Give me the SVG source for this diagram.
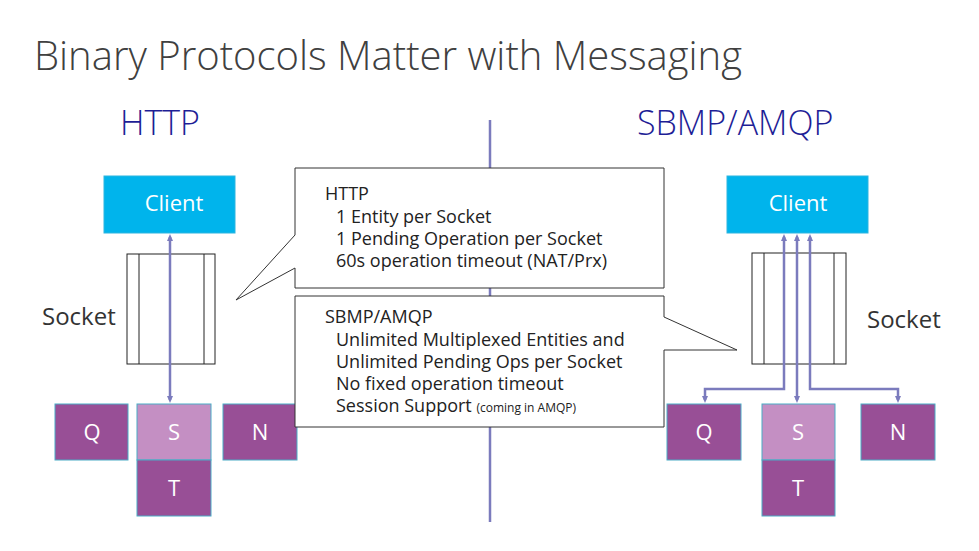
<svg xmlns="http://www.w3.org/2000/svg" width="979" height="551" viewBox="0 0 979 551">
<defs>
<marker id="ah" markerWidth="8" markerHeight="8" refX="4" refY="4" orient="auto-start-reverse" markerUnits="userSpaceOnUse"><path d="M0,1 L7,4 L0,7 z" fill="#7b7bbd"/></marker>
<style>
text{font-family:"Segoe UI","Open Sans","Liberation Sans",sans-serif}
.title{font-size:40px;fill:#404040;font-weight:300}
.hd{font-size:34px;fill:#1e1e96;font-weight:300}
.sock{font-size:24px;fill:#333}
.cl{fill:#00b4ec;stroke:#2cb5e0}
.cl-t{font-size:22px;fill:#fff;text-anchor:middle}
.p{fill:#984f96;stroke:#4bacc6}
.pl{fill:#c48fc3;stroke:#4bacc6}
.lt{font-size:22px;fill:#fff;text-anchor:middle}
.sk{fill:#fff;stroke:#222;stroke-width:1}
.cb{fill:#fff;stroke:#333;stroke-width:1}
.ct{font-size:18px;fill:#222}
.ln{stroke:#7b7bbd;stroke-width:2.5;fill:none}
</style>
</defs>
<rect width="979" height="551" fill="#fff"/>
<text class="title" x="34" y="70">Binary Protocols Matter with Messaging</text>
<text class="hd" x="120" y="135">HTTP</text>
<text class="hd" x="637" y="135">SBMP/AMQP</text>
<text class="sock" x="42" y="325">Socket</text>
<text class="sock" x="867" y="328">Socket</text>
<line class="ln" x1="490" y1="120" x2="490" y2="522"/>
<g id="sockL"><rect class="sk" x="127" y="254" width="88" height="110"/><line class="sk" x1="139" y1="254" x2="139" y2="364"/><line class="sk" x1="204" y1="254" x2="204" y2="364"/></g>
<g id="sockR"><rect class="sk" x="752" y="253" width="94" height="111"/><line class="sk" x1="764" y1="253" x2="764" y2="364"/><line class="sk" x1="834" y1="253" x2="834" y2="364"/></g>
<g id="clientL"><rect class="cl" x="104" y="176" width="131" height="57"/><text class="cl-t" x="174" y="211">Client</text></g>
<g id="clientR"><rect class="cl" x="727" y="176" width="141" height="57"/><text class="cl-t" x="798" y="211">Client</text></g>
<g id="QL"><rect class="p" x="55" y="404" width="73" height="56"/><text class="lt" x="92" y="440">Q</text></g>
<g id="SL"><rect class="pl" x="137" y="404" width="74" height="56"/><text class="lt" x="174" y="440">S</text></g>
<g id="TL"><rect class="p" x="137" y="460" width="74" height="56"/><text class="lt" x="174" y="496">T</text></g>
<g id="NL"><rect class="p" x="223" y="404" width="74" height="56"/><text class="lt" x="260" y="440">N</text></g>
<g id="QR"><rect class="p" x="667" y="404" width="74" height="56"/><text class="lt" x="704" y="440">Q</text></g>
<g id="SR"><rect class="pl" x="762" y="404" width="73" height="56"/><text class="lt" x="798" y="440">S</text></g>
<g id="TR"><rect class="p" x="762" y="460" width="73" height="56"/><text class="lt" x="798" y="496">T</text></g>
<g id="NR"><rect class="p" x="861" y="404" width="74" height="56"/><text class="lt" x="898" y="440">N</text></g>
<g id="connectors">
<line class="ln" x1="170" y1="237" x2="170" y2="400" marker-start="url(#ah)" marker-end="url(#ah)"/>
<path class="ln" d="M784,237 V389 H705 V400" marker-start="url(#ah)" marker-end="url(#ah)"/>
<line class="ln" x1="797" y1="237" x2="797" y2="400" marker-start="url(#ah)" marker-end="url(#ah)"/>
<path class="ln" d="M810,237 V389 H898 V400" marker-start="url(#ah)" marker-end="url(#ah)"/>
</g>
<g id="callout1"><path class="cb" d="M295,168 H664 V288 H295 V268 L236,300 L295,235 Z"/>
<text class="ct" x="325" y="200">HTTP</text>
<text class="ct" x="336" y="223">1 Entity per Socket</text>
<text class="ct" x="336" y="245">1 Pending Operation per Socket</text>
<text class="ct" x="336" y="267">60s operation timeout (NAT/Prx)</text></g>
<g id="callout2"><path class="cb" d="M295,296 H664 V317 L737,350 L664,350 V427 H295 Z"/>
<text class="ct" x="325" y="323">SBMP/AMQP</text>
<text class="ct" x="336" y="346">Unlimited Multiplexed Entities and</text>
<text class="ct" x="336" y="368">Unlimited Pending Ops per Socket</text>
<text class="ct" x="336" y="390">No fixed operation timeout</text>
<text class="ct" x="336" y="412">Session Support <tspan font-size="12">(coming in AMQP)</tspan></text></g>
</svg>
